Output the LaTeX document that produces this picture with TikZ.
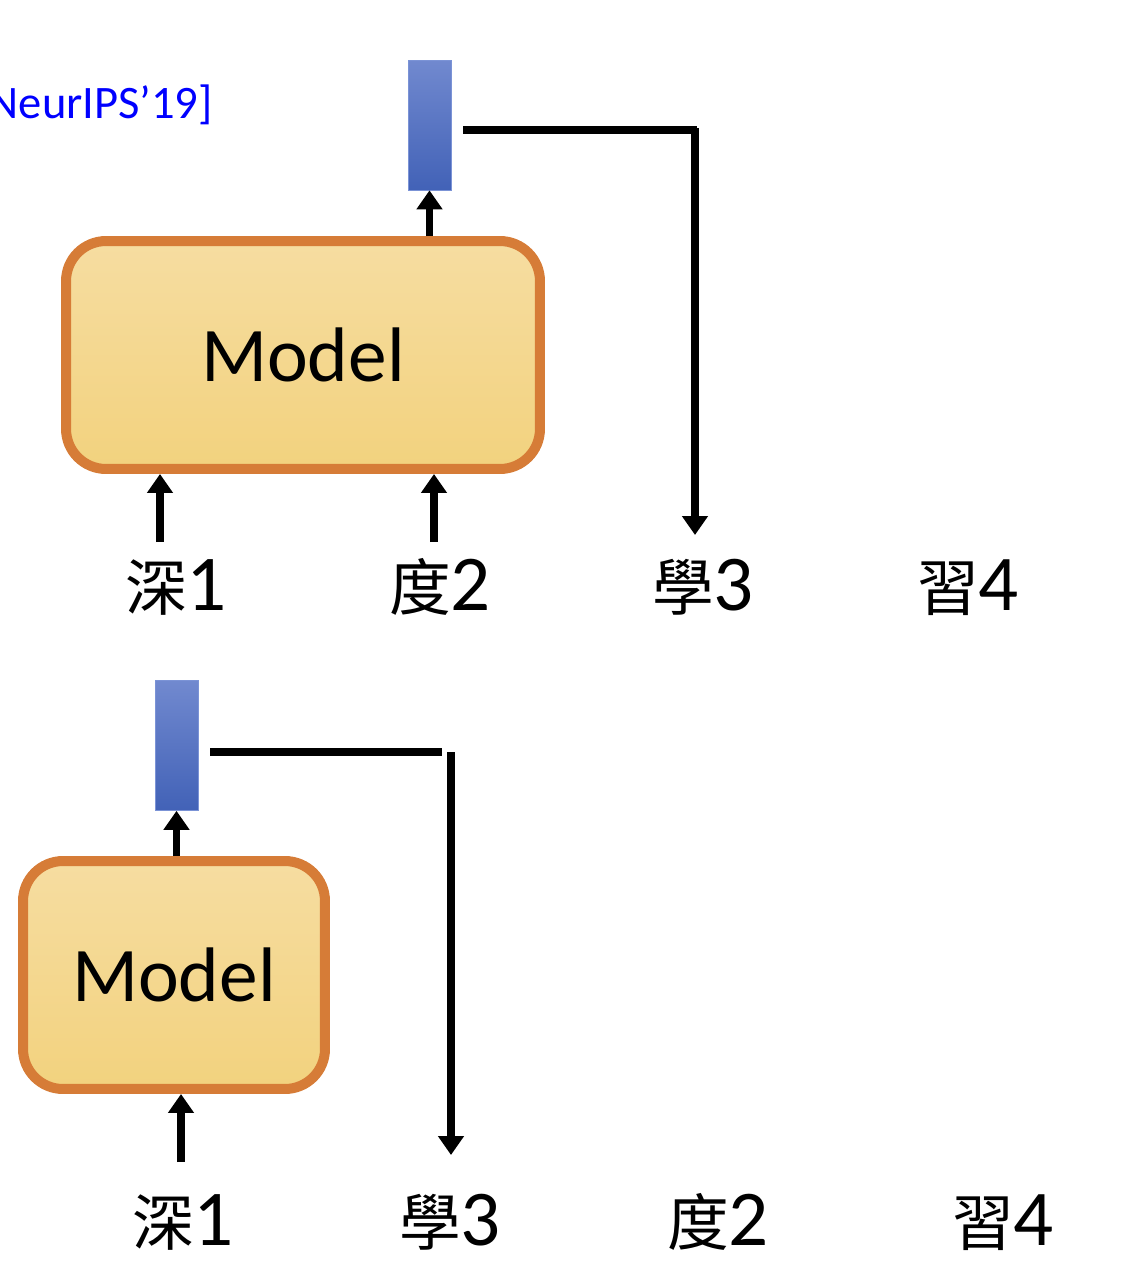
\documentclass[tikz,border=0pt]{standalone}
\usepackage{fontspec}
\setmainfont{Carlito}
\newfontfamily\cjk[Scale=0.78]{Noto Sans CJK TC}
\usetikzlibrary{arrows.meta,positioning}
\definecolor{modelorange}{HTML}{D67C37}
\definecolor{modeltop}{HTML}{F6DDA1}
\definecolor{modelbottom}{HTML}{F2D27E}
\definecolor{vectop}{HTML}{7189CF}
\definecolor{vecbottom}{HTML}{4262B7}
\definecolor{vecedge}{HTML}{7B93D6}
\tikzset{
	model/.style={draw=modelorange, line width=5.7pt, rounded corners=0.8cm,
			top color=modeltop, bottom color=modelbottom,
			minimum height=4.56cm, font=\fontsize{44}{50}\selectfont},
	vec/.style={draw=vecedge, thin, top color=vectop, bottom color=vecbottom,
			minimum width=0.86cm, minimum height=2.6cm, inner sep=0pt},
	link/.style={line width=4.3pt},
	arr/.style={link, -{Triangle[length=0.38cm,width=0.5cm]}},
	word/.style={anchor=base, inner sep=0pt, font=\fontsize{45}{50}\selectfont}
}

\begin{document}
\begin{tikzpicture}[x=0.02cm,y=-0.02cm]
	\useasboundingbox (0,0) rectangle (1132,1268);
	\clip (0,0) rectangle (1132,1268);

	\node[anchor=base east, inner sep=0pt, text=blue, font=\fontsize{26.5}{30}\selectfont] (cite) at (213,118) {NeurIPS’19]};

	% first order: 深 度 學 習
	\node[model, minimum width=9.48cm] (top) at (303,355) {Model};
	\node[vec] (vec1) at (429.5,125) {};
	\node[word] (a1) at (176,610) {{\cjk 深}1};
	\node[word] (a2) at (440,610) {{\cjk 度}2};
	\node[word] (a3) at (703,610) {{\cjk 學}3};
	\node[word] (a4) at (968,610) {{\cjk 習}4};

	\coordinate (in1) at (160,542);
	\coordinate (in2) at (434,542);
	\coordinate (out1) at (463,130);
	\coordinate (turn1) at (697,130);
	\coordinate (drop1) at (695,128);
	\coordinate (end1) at (695,535);

	\draw[arr] (in1) -- (in1 |- top.south);
	\draw[arr] (in2) -- (in2 |- top.south);
	\draw[arr] (vec1.south |- top.north) -- (vec1.south);
	\draw[link] (out1) -- (turn1);
	\draw[arr] (drop1) -- (end1);

	% second order: 深 學 度 習
	\node[model, minimum width=6.04cm] (bot) at (174,975) {Model};
	\node[vec] (vec2) at (176.5,745.5) {};
	\node[word] (b1) at (183,1245) {{\cjk 深}1};
	\node[word] (b3) at (450,1245) {{\cjk 學}3};
	\node[word] (b2) at (718,1245) {{\cjk 度}2};
	\node[word] (b4) at (1003,1245) {{\cjk 習}4};

	\coordinate (in3) at (181,1162);
	\coordinate (out2) at (210,752);
	\coordinate (turn2) at (442,752);
	\coordinate (drop2) at (451,752);
	\coordinate (end2) at (451,1155);

	\draw[arr] (in3) -- (in3 |- bot.south);
	\draw[arr] (vec2.south |- bot.north) -- (vec2.south);
	\draw[link] (out2) -- (turn2);
	\draw[arr] (drop2) -- (end2);
\end{tikzpicture}
\end{document}
